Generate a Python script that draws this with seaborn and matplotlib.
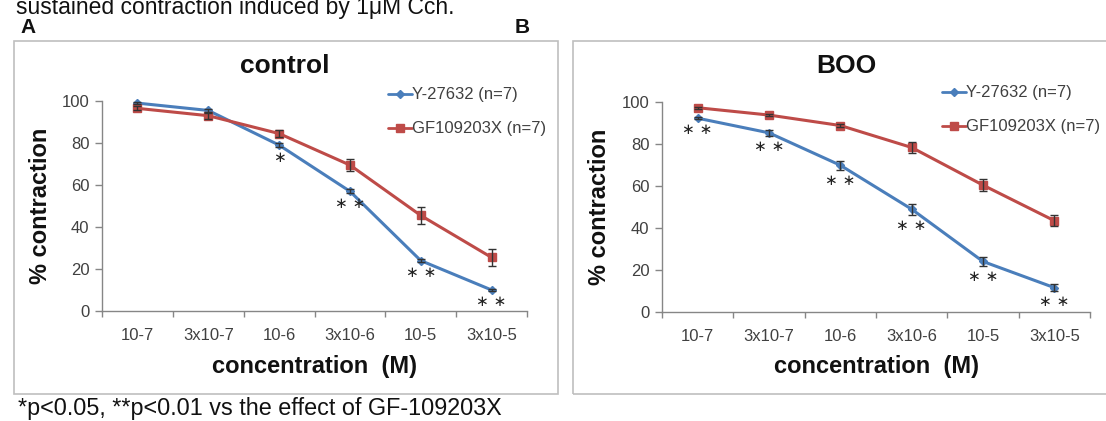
import numpy as np
import pandas as pd
import matplotlib
matplotlib.use("Agg")
import matplotlib.pyplot as plt
import seaborn as sns
from matplotlib.patches import Rectangle

sns.set_theme(style="white")
plt.rcParams['font.family'] = ['Liberation Sans', 'DejaVu Sans']

concentrations = ["10-7", "3x10-7", "10-6", "3x10-6", "10-5", "3x10-5"]
series_names = ["Y-27632 (n=7)", "GF109203X (n=7)"]

control_y = [99.0, 95.5, 79.0, 57.0, 24.0, 10.0]
control_y_err = [0.6, 0.6, 0.8, 1.0, 0.6, 0.5]
control_gf = [96.5, 93.0, 84.5, 69.5, 45.5, 25.5]
control_gf_err = [1.0, 1.5, 1.8, 3.0, 4.0, 4.0]
control_sig = ["", "", "*", "**", "**", "**"]

boo_y = [92.5, 85.5, 70.0, 49.0, 24.0, 11.5]
boo_y_err = [0.5, 1.5, 2.2, 2.6, 2.2, 1.8]
boo_gf = [97.5, 94.0, 89.0, 78.5, 60.5, 43.5]
boo_gf_err = [0.5, 0.5, 0.8, 2.5, 3.0, 2.6]
boo_sig = ["**", "**", "**", "**", "**", "**"]

BLUE = "#4A7EBB"
RED = "#BE4B48"
TICKC = "#404040"
AXC = "#868686"
TXT = "#111111"

W, H = 1106, 421
fig = plt.figure(figsize=(W / 100, H / 100), dpi=100)


def fx(px):
    return px / W


def fy(py):
    return 1 - py / H


# panel frames
for (x0, x1) in [(13.5, 558), (573, 1112)]:
    fig.add_artist(Rectangle((fx(x0), fy(394)), fx(x1 - x0), (394 - 41) / H,
                             transform=fig.transFigure, fill=False,
                             edgecolor="#BFBFBF", linewidth=1.2))


def panel(rect, yv, ye, gv, ge, sig, title, title_x, leg_xy):
    ax = fig.add_axes(rect)
    df = pd.DataFrame({
        "conc": concentrations * 2,
        "val": yv + gv,
        "series": [series_names[0]] * 6 + [series_names[1]] * 6,
    })
    sns.lineplot(data=df, x="conc", y="val", hue="series",
                 palette=[BLUE, RED], linewidth=2.2, ax=ax, legend=False,
                 sort=False)
    xs = np.arange(len(concentrations))
    ax.plot(xs, yv, linestyle="none", marker="D", markersize=4.5, color=BLUE,
            markeredgecolor=BLUE, clip_on=False, zorder=4)
    ax.plot(xs, gv, linestyle="none", marker="s", markersize=6, color=RED,
            markeredgecolor=RED, clip_on=False, zorder=4)
    ax.errorbar(xs, yv, yerr=ye, fmt="none", ecolor="#333333", elinewidth=1,
                capsize=3, capthick=1, zorder=5, clip_on=False)
    ax.errorbar(xs, gv, yerr=ge, fmt="none", ecolor="#333333", elinewidth=1,
                capsize=3, capthick=1, zorder=5, clip_on=False)
    for i, s in enumerate(sig):
        if s:
            ax.annotate(" ".join(["\u2217"] * len(s)), (xs[i], yv[i] - ye[i]),
                        xytext=(0, -7.5), textcoords="offset points",
                        ha="center", va="center", fontsize=11,
                        color="#222222", family="DejaVu Sans")
    ax.set_xlim(-0.5, 5.5)
    ax.set_ylim(0, 100)
    ax.set_yticks([0, 20, 40, 60, 80, 100])
    ax.set_xticks(np.arange(-0.5, 6.0, 1.0))
    ax.set_xticklabels([])
    ax.set_xticks(xs, minor=True)
    ax.set_xticklabels(concentrations, minor=True)
    ax.tick_params(axis="x", which="major", length=4, width=1, color=AXC,
                   direction="out", bottom=True)
    ax.tick_params(axis="x", which="minor", length=0, pad=12.5,
                   labelsize=12, labelcolor=TICKC)
    ax.tick_params(axis="y", length=5, width=1, color=AXC, direction="out",
                   left=True, labelsize=12, labelcolor=TICKC, pad=4)
    for sp in ["top", "right"]:
        ax.spines[sp].set_visible(False)
    for sp in ["left", "bottom"]:
        ax.spines[sp].set_color(AXC)
        ax.spines[sp].set_linewidth(1)
    ax.set_xlabel("concentration  (M)", fontsize=17, fontweight="bold",
                  color=TXT, va="center")
    ax.xaxis.set_label_coords(0.5, -0.262)
    ax.set_ylabel("% contraction", fontsize=17, fontweight="bold",
                  color=TXT, va="center")
    ax.yaxis.set_label_coords(-0.145, 0.5)
    fig.text(fx(title_x), fy(73), title, fontsize=19, fontweight="bold",
             ha="center", va="baseline", color=TXT)
    # legend
    lx, ly = leg_xy
    for k, (c, m, ms) in enumerate([(BLUE, "D", 4), (RED, "s", 5.5)]):
        yy = fy(ly + 34 * k)
        fig.add_artist(plt.Line2D([fx(lx), fx(lx + 24)], [yy, yy], color=c,
                                  linewidth=2, transform=fig.transFigure))
        fig.add_artist(plt.Line2D([fx(lx + 12)], [yy], color=c, marker=m,
                                  markersize=ms, transform=fig.transFigure))
        fig.text(fx(lx + 24), yy, series_names[k], fontsize=12, ha="left",
                 va="center", color=TICKC)
    return ax


panel([fx(102), fy(311), fx(425), 210 / H], control_y, control_y_err,
      control_gf, control_gf_err, control_sig, "control", 285, (388, 94))
panel([fx(662), fy(311.7), fx(428), 209.2 / H], boo_y, boo_y_err,
      boo_gf, boo_gf_err, boo_sig, "BOO", 846, (942, 92))

fig.text(fx(16), fy(14), "sustained contraction induced by 1μM Cch.",
         fontsize=16.5, ha="left", va="baseline", color=TXT)
fig.text(fx(20), fy(33), "A", fontsize=15, fontweight="bold", ha="left",
         va="baseline", color=TXT)
fig.text(fx(515), fy(33), "B", fontsize=15, fontweight="bold", ha="left",
         va="baseline", color=TXT)
fig.text(fx(18), fy(409), "*p<0.05, **p<0.01 vs the effect of GF-109203X",
         fontsize=16.8, ha="left", va="center", color=TXT)

fig.savefig("out.png", dpi=100)
